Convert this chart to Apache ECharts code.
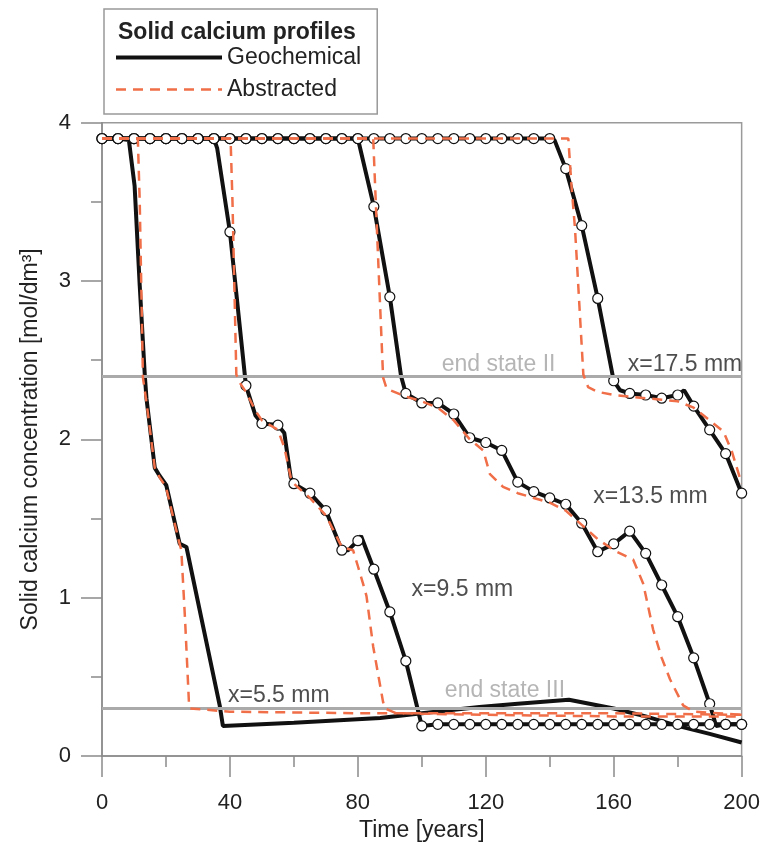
<!DOCTYPE html>
<html>
<head>
<meta charset="utf-8">
<script src="https://cdn.jsdelivr.net/npm/echarts@6/dist/echarts.min.js"></script>
<style>
  html, body { margin: 0; padding: 0; background: #fff; }
  #chart { width: 763px; height: 847px; }
</style>
</head>
<body>
<div id="chart"></div>
<script>
// time [years], solid calcium [mol/dm3]
var geo55 = [[0,3.9],[5,3.9],[8.4,3.89],[10.2,3.6],[11.8,2.97],[13.4,2.4],[13.9,2.26],[16.5,1.82],[18,1.77],[20.1,1.71],
  [24.3,1.34],[26.4,1.32],[36.8,0.32],[37.8,0.19],[60,0.21],[87,0.24],[100,0.27],[118,0.31],[130,0.33],[146,0.355],
  [160,0.3],[170,0.25],[180,0.19],[190,0.14],[200,0.085]];
var geo95 = [[0,3.9],[5,3.9],[10,3.9],[15,3.9],[20,3.9],[25,3.9],[30,3.9],[35,3.9],[36,3.84],[40,3.31],[45,2.34],
  [48,2.15],[50,2.1],[55,2.09],[57,2.04],[59,1.76],[60,1.72],[65,1.66],[70,1.55],[75,1.3],[77,1.3],[80,1.36],
  [81,1.39],[85,1.18],[90,0.91],[95,0.6],[100,0.19],[105,0.2],[110,0.2],[115,0.2],[120,0.2],[125,0.2],[130,0.2],
  [135,0.2],[140,0.2],[145,0.2],[150,0.2],[155,0.2],[160,0.2],[165,0.2],[170,0.2],[175,0.2],[180,0.2],[185,0.2],
  [190,0.2],[195,0.2],[200,0.2]];
var geo135 = [[0,3.9],[5,3.9],[10,3.9],[15,3.9],[20,3.9],[25,3.9],[30,3.9],[35,3.9],[40,3.9],[45,3.9],[50,3.9],
  [55,3.9],[60,3.9],[65,3.9],[70,3.9],[75,3.9],[80,3.9],[85,3.47],[90,2.9],[93.5,2.4],[95,2.29],[100,2.23],[105,2.23],
  [110,2.16],[115,2.01],[120,1.98],[125,1.93],[130,1.73],[135,1.67],[140,1.63],[145,1.59],[150,1.47],[155,1.29],
  [160,1.34],[165,1.42],[170,1.28],[175,1.08],[180,0.88],[185,0.62],[190,0.33],[192,0.19],[195,0.2],[200,0.2]];
var geo175 = [[0,3.9],[5,3.9],[10,3.9],[15,3.9],[20,3.9],[25,3.9],[30,3.9],[35,3.9],[40,3.9],[45,3.9],[50,3.9],
  [55,3.9],[60,3.9],[65,3.9],[70,3.9],[75,3.9],[80,3.9],[85,3.9],[90,3.9],[95,3.9],[100,3.9],[105,3.9],[110,3.9],
  [115,3.9],[120,3.9],[125,3.9],[130,3.9],[135,3.9],[140,3.9],[141.5,3.89],[145,3.71],[150,3.35],[155,2.89],
  [160,2.37],[162,2.31],[165,2.29],[170,2.28],[175,2.26],[180,2.28],[182,2.31],[185,2.21],[190,2.06],[195,1.91],[200,1.66]];

var abs55 = [[0,3.9],[11.2,3.9],[11.8,3.5],[12.8,2.39],[14,2.22],[16.5,1.82],[18,1.76],[20,1.7],[24,1.36],[24.8,1.3],
  [26,0.85],[27.2,0.33],[27.6,0.3],[40,0.28],[80,0.27],[120,0.27],[160,0.27],[200,0.26]];
var abs95 = [[0,3.9],[40.2,3.9],[40.8,3.5],[42,2.41],[43,2.36],[45,2.3],[48,2.18],[50,2.12],[55,2.06],[57,1.95],
  [59,1.76],[60,1.72],[65,1.63],[70,1.52],[75,1.32],[78.5,1.3],[80,1.2],[81.6,1.09],[82.7,1.01],[84.8,0.69],
  [87.9,0.34],[88.5,0.3],[92,0.27],[120,0.26],[160,0.25],[200,0.25]];
var abs135 = [[0,3.9],[84.8,3.9],[85.6,3.5],[87.9,2.39],[89,2.32],[95,2.27],[100,2.24],[105,2.2],[110,2.12],[115,2.0],
  [119.2,1.93],[121.3,1.78],[125.4,1.7],[130,1.66],[135,1.63],[140,1.6],[145,1.55],[150,1.46],[155,1.37],[160,1.3],
  [166.1,1.24],[169.2,1.09],[172.3,0.8],[175,0.62],[177.6,0.485],[181.7,0.32],[185,0.28],[200,0.26]];
var abs175 = [[0,3.9],[145.8,3.9],[146.8,3.6],[147.9,3.33],[150.5,2.41],[152,2.33],[155,2.3],[160,2.28],[165,2.27],
  [170,2.26],[175,2.25],[180,2.24],[185,2.2],[190,2.12],[194.3,2.05],[197,1.92],[200,1.72]];

var endStates = [2.4, 0.3];
var xTicks = [0, 40, 80, 120, 160, 200];
// annotation texts anchored in data coordinates
var notes = [
  ['x=17.5 mm', 164.4, 2.47, false],
  ['end state II', 106.2, 2.47, true],
  ['x=13.5 mm', 153.6, 1.635, false],
  ['x=9.5 mm', 96.8, 1.05, false],
  ['end state III', 107.2, 0.41, true],
  ['x=5.5 mm', 39.4, 0.38, false]
];

var FONT = "'Liberation Sans', Arial, Helvetica, sans-serif";
var INK = '#222';
var AXIS = '#8a8a8a';
var DASH = '#f06e48';

// geochemical output points every 5 years carry the open circles
function every5(arr) {
  return arr.filter(function (p) { return p[0] % 5 === 0; });
}

var chart = echarts.init(document.getElementById('chart'));

var series = [];
// end state lines + text annotations (drawn underneath)
series.push({
  type: 'scatter',
  z: 1,
  silent: true,
  symbolSize: 0,
  data: notes.map(function (n) {
    return {
      value: [n[1], n[2]],
      label: {
        show: true, position: 'right', distance: 0, formatter: n[0],
        fontSize: 23, fontFamily: FONT, color: n[3] ? '#a3a3a3' : INK,
        align: 'left', verticalAlign: 'middle'
      }
    };
  }),
  markLine: {
    silent: true,
    symbol: 'none',
    label: { show: false },
    lineStyle: { color: '#aaaaaa', width: 3, type: 'solid' },
    data: endStates.map(function (v) { return { yAxis: v }; })
  }
});

[geo55, geo95, geo135, geo175].forEach(function (d) {
  series.push({
    name: 'Geochemical', type: 'line', data: d, symbol: 'none', z: 3,
    lineStyle: { color: '#111', width: 4 },
    itemStyle: { color: '#111' }
  });
});

series.push({
  type: 'scatter', z: 4, silent: true,
  data: every5(geo95).concat(every5(geo135), every5(geo175)),
  symbol: 'circle', symbolSize: 10,
  itemStyle: { color: '#fff', borderColor: '#111', borderWidth: 1.2, opacity: 1 }
});

[abs55, abs95, abs135, abs175].forEach(function (d) {
  series.push({
    name: 'Abstracted', type: 'line', data: d, symbol: 'none', z: 5,
    lineStyle: { color: DASH, width: 2.5, type: [10, 7] },
    itemStyle: { color: DASH }
  });
});

var option = {
  backgroundColor: '#fff',
  animation: false,
  textStyle: { fontFamily: FONT },
  title: {
    text: 'Solid calcium profiles',
    left: 118, top: 21, padding: 0,
    textStyle: { fontSize: 23, fontWeight: 'bold', color: INK, fontFamily: FONT }
  },
  legend: {
    orient: 'vertical',
    left: 104, top: 9,
    data: [
      { name: 'Geochemical', itemStyle: { opacity: 0 }, lineStyle: { color: '#111', width: 4 } },
      { name: 'Abstracted', itemStyle: { opacity: 0 }, lineStyle: { color: DASH, width: 2.5, type: [10, 7] } }
    ],
    itemWidth: 106, itemHeight: 14, itemGap: 9,
    padding: [37, 16, 13, 10],
    borderColor: '#999', borderWidth: 1.5,
    selectedMode: false,
    textStyle: { fontSize: 23, color: INK, fontFamily: FONT, lineHeight: 23 }
  },
  grid: {
    left: 102, right: 21, top: 122.7, bottom: 86,
    show: true, borderColor: '#9a9a9a', borderWidth: 1.5
  },
  xAxis: {
    type: 'value', min: 0, max: 200, interval: 40,
    name: 'Time [years]', nameLocation: 'middle', nameGap: 63,
    nameTextStyle: { fontSize: 23, color: INK, fontFamily: FONT },
    axisLine: { show: true, lineStyle: { color: AXIS, width: 1.5 } },
    axisTick: { show: true, length: 21, lineStyle: { color: AXIS, width: 1.5 } },
    minorTick: { show: true, splitNumber: 2, length: 11, lineStyle: { color: AXIS, width: 1.5 } },
    splitLine: { show: false },
    axisLabel: {
      fontSize: 22, color: INK, margin: 36, fontFamily: FONT,
      formatter: function (v) { return xTicks.indexOf(v) >= 0 ? String(v) : ''; }
    }
  },
  yAxis: {
    type: 'value', min: 0, max: 4, interval: 1,
    name: 'Solid calcium concentration [mol/dm³]', nameLocation: 'middle', nameGap: 60,
    nameTextStyle: { fontSize: 23, color: INK, fontFamily: FONT },
    axisLine: { show: true, lineStyle: { color: AXIS, width: 1.5 } },
    axisTick: { show: true, length: 21, lineStyle: { color: AXIS, width: 1.5 } },
    minorTick: { show: true, splitNumber: 2, length: 11, lineStyle: { color: AXIS, width: 1.5 } },
    splitLine: { show: false },
    axisLabel: { fontSize: 22, color: INK, margin: 31, fontFamily: FONT }
  },
  series: series
};

chart.setOption(option);
</script>
</body>
</html>
